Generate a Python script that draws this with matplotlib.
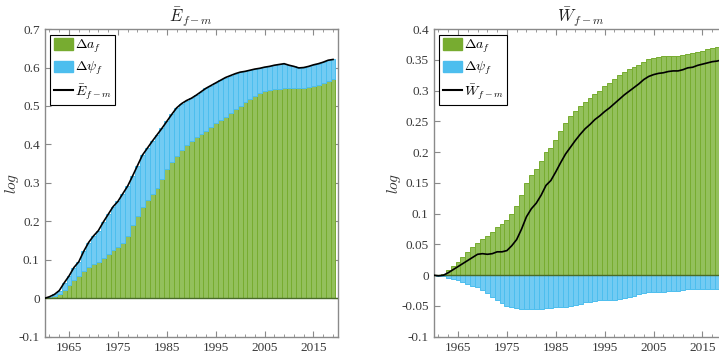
import matplotlib
matplotlib.use("Agg")
import matplotlib.pyplot as plt
import numpy as np
from matplotlib.patches import Patch
from matplotlib.lines import Line2D
from matplotlib.ticker import FixedLocator

plt.rcParams['font.family'] = ['Liberation Serif', 'DejaVu Serif']
plt.rcParams['mathtext.fontset'] = 'cm'

years = np.arange(1960, 2020)

# left panel: E_{f-m}
a_left = [0.0, 0.003, 0.007, 0.012, 0.022, 0.035, 0.048, 0.058, 0.072, 0.082,
          0.09, 0.095, 0.105, 0.115, 0.125, 0.133, 0.145, 0.162, 0.19, 0.215,
          0.238, 0.255, 0.272, 0.287, 0.31, 0.335, 0.355, 0.37, 0.385, 0.398,
          0.41, 0.42, 0.428, 0.436, 0.445, 0.455, 0.463, 0.472, 0.482, 0.492,
          0.5, 0.51, 0.518, 0.526, 0.533, 0.538, 0.542, 0.544, 0.545, 0.546,
          0.546, 0.546, 0.546, 0.548, 0.55, 0.552, 0.555, 0.56, 0.566, 0.57]
psi_left = [0.0, 0.001, 0.003, 0.008, 0.018, 0.023, 0.032, 0.037, 0.05, 0.063,
            0.072, 0.081, 0.093, 0.103, 0.113, 0.119, 0.127, 0.13, 0.128, 0.13,
            0.134, 0.135, 0.136, 0.138, 0.132, 0.125, 0.123, 0.125, 0.121, 0.116,
            0.11, 0.108, 0.109, 0.11, 0.108, 0.105, 0.104, 0.102, 0.097, 0.092,
            0.088, 0.08, 0.075, 0.07, 0.065, 0.063, 0.061, 0.062, 0.063, 0.064,
            0.06, 0.057, 0.053, 0.052, 0.053, 0.055, 0.055, 0.054, 0.053, 0.051]

# right panel: W_{f-m}
a_right = [0.0, 0.0, 0.002, 0.008, 0.015, 0.022, 0.03, 0.038, 0.046, 0.053,
           0.059, 0.063, 0.07, 0.078, 0.083, 0.09, 0.1, 0.112, 0.13, 0.15,
           0.163, 0.172, 0.185, 0.2, 0.207, 0.22, 0.235, 0.248, 0.258, 0.267,
           0.275, 0.282, 0.288, 0.295, 0.3, 0.307, 0.313, 0.319, 0.325, 0.33,
           0.335, 0.339, 0.342, 0.347, 0.351, 0.353, 0.355, 0.356, 0.357, 0.357,
           0.357, 0.358, 0.36, 0.361, 0.363, 0.365, 0.367, 0.369, 0.371, 0.373]
psi_right = [0.0, -0.001, -0.002, -0.004, -0.006, -0.008, -0.011, -0.014, -0.017, -0.019,
             -0.024, -0.029, -0.035, -0.04, -0.045, -0.05, -0.052, -0.054, -0.055, -0.055,
             -0.055, -0.055, -0.055, -0.054, -0.053, -0.052, -0.052, -0.051, -0.05, -0.048,
             -0.046, -0.044, -0.043, -0.042, -0.041, -0.041, -0.041, -0.04, -0.039, -0.037,
             -0.036, -0.034, -0.031, -0.029, -0.028, -0.027, -0.027, -0.027, -0.026, -0.025,
             -0.025, -0.024, -0.023, -0.023, -0.022, -0.022, -0.022, -0.022, -0.023, -0.023]

green = '#77AC30'
green_face = '#93c05c'
blue = '#4DBEEE'
blue_face = '#72cbf3'
axis_gray = '#8a8a8a'
text_gray = '#3a3a3a'

fig = plt.figure(figsize=(7.19, 3.59), dpi=100)
ax1 = fig.add_axes([0.062, 0.062, 0.408, 0.857])
ax2 = fig.add_axes([0.603, 0.062, 0.408, 0.857])


def draw_panel(ax, a, psi, title, line_label, ylim, yticks, yticklabels, ylab_x):
    a = np.array(a)
    psi = np.array(psi)
    total = a + psi
    # stacked like matlab: positives stack up, negatives go down from 0
    psi_bottom = np.where(psi >= 0, a, 0.0)
    ax.bar(years, a, width=1.0, color=green_face, edgecolor=green, linewidth=0.7, zorder=2)
    ax.bar(years, psi, bottom=psi_bottom, width=1.0, color=blue_face, edgecolor=blue,
           linewidth=0.7, zorder=2)
    ax.axhline(0, color='#4a6b2a', linewidth=1.0, zorder=3)
    ax.plot(years, total, color='black', linewidth=1.2, zorder=4)

    ax.set_xlim(1960, 2020)
    ax.set_ylim(*ylim)
    ax.set_xticks(np.arange(1965, 2020, 10))
    ax.xaxis.set_minor_locator(FixedLocator(np.arange(1961, 2020, 2)))
    ax.set_yticks(yticks)
    ax.set_yticklabels(yticklabels)
    ax.tick_params(which='both', direction='in', top=True, right=True,
                   color=axis_gray, labelcolor=text_gray, labelsize=9.5)
    ax.tick_params(which='major', length=4)
    ax.tick_params(which='minor', length=2.5)
    for s in ax.spines.values():
        s.set_color(axis_gray)
        s.set_linewidth(1.0)
    ax.set_title(title, fontsize=12, color='#222222', pad=4)
    ax.set_ylabel('$log$', fontsize=11, color='#333333')
    ax.yaxis.set_label_coords(ylab_x, 0.5)

    handles = [Patch(facecolor=green, edgecolor=green),
               Patch(facecolor=blue, edgecolor=blue),
               Line2D([0], [0], color='black', linewidth=1.5)]
    labels = [r'$\Delta a_f$', r'$\Delta \psi_f$', line_label]
    leg = ax.legend(handles, labels, loc='upper left', fontsize=10, frameon=True,
                    fancybox=False, framealpha=1, edgecolor='black',
                    borderpad=0.25, labelspacing=0.35, handlelength=1.4,
                    handleheight=0.9, handletextpad=0.15, borderaxespad=0.4)
    leg.get_frame().set_linewidth(0.8)


draw_panel(ax1, a_left, psi_left, r'$\bar{E}_{f-m}$', r'$\bar{E}_{f-m}$',
           (-0.1, 0.7), np.arange(-0.1, 0.71, 0.1),
           ['-0.1', '0', '0.1', '0.2', '0.3', '0.4', '0.5', '0.6', '0.7'], -0.08)
draw_panel(ax2, a_right, psi_right, r'$\bar{W}_{f-m}$', r'$\bar{W}_{f-m}$',
           (-0.1, 0.4), np.arange(-0.1, 0.41, 0.05),
           ['-0.1', '-0.05', '0', '0.05', '0.1', '0.15', '0.2', '0.25', '0.3', '0.35', '0.4'],
           -0.105)

fig.savefig('out.png', dpi=100)
